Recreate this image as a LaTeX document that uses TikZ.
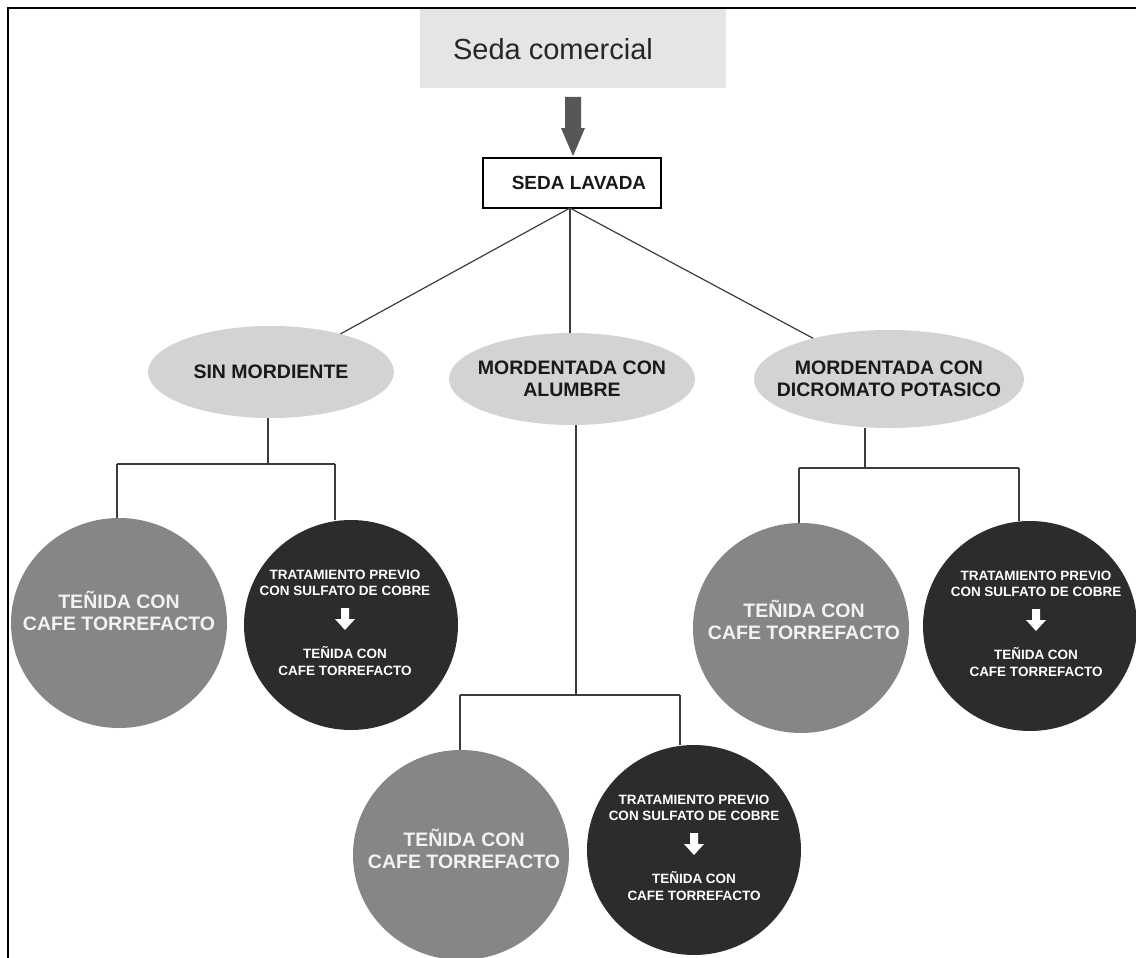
\documentclass[tikz,border=0pt]{standalone}
\usepackage{fontspec}
\setmainfont{Liberation Sans}
\usetikzlibrary{shapes.geometric,calc}
\definecolor{boxgray}{HTML}{E5E5E5}
\definecolor{ellgray}{HTML}{D3D3D3}
\definecolor{midgray}{HTML}{868686}
\definecolor{darkc}{HTML}{2C2C2C}
\definecolor{arrowgray}{HTML}{575757}
\definecolor{linec}{HTML}{3C3C3C}
\tikzset{
  conn/.style={draw=linec, line width=1.2pt},
  ellnode/.style={ellipse, fill=ellgray, inner sep=0pt},
  elltext/.style={align=center, inner sep=0pt, text=black!90,
    font=\fontsize{19.5}{22}\selectfont\bfseries},
  greyc/.style={ellipse, fill=midgray, inner sep=0pt, minimum width=216pt, minimum height=210pt},
  darkcirc/.style={ellipse, fill=darkc, inner sep=0pt, minimum width=214pt, minimum height=210pt},
  greytext/.style={align=center, text=white!95!black, inner sep=0pt,
    font=\fontsize{19.5}{21.5}\selectfont\bfseries},
  smalltext/.style={align=center, text=white, inner sep=0pt,
    font=\fontsize{13.5}{16.5}\selectfont\bfseries},
}
\newcommand{\whitearrow}[1]{%
  \fill[white] ($(#1)+(-4,-17)$) -- ($(#1)+(4,-17)$) -- ($(#1)+(4,-6)$) -- ($(#1)+(10,-6)$)
    -- ($(#1)+(0,5)$) -- ($(#1)+(-10,-6)$) -- ($(#1)+(-4,-6)$) -- cycle;}
\begin{document}
\begin{tikzpicture}[x=1pt,y=-1pt]
\useasboundingbox (0,0) rectangle (1136,958);
\fill[white] (0,0) rectangle (1136,958);
% outer frame (top and left)
\draw[line width=2pt, black] (1136,8) -- (8,8) -- (8,958);

% top box
\node[fill=boxgray, minimum width=306pt, minimum height=79pt, inner sep=0pt,
      font=\fontsize{29}{32}\selectfont, text=black!85] (top) at (573,49)
      {Seda comercial\hspace*{40pt}};
% thick arrow
\fill[arrowgray] (565,97) -- (581,97) -- (581,128) -- (585,128) -- (573,156) -- (561,128) -- (565,128) -- cycle;

% SEDA LAVADA
\node[draw=black, line width=1.1pt, fill=white, minimum width=178pt, minimum height=50pt, inner sep=0pt,
      font=\fontsize{19}{22}\selectfont\bfseries, text=black!90] (sl) at (572,183)
      {\hspace*{14pt}SEDA LAVADA};

% ellipses
\node[ellnode, minimum width=246pt, minimum height=92pt] (e1) at (271,372) {};
\node[elltext] (e1t) at (e1.center) {SIN MORDIENTE};
\node[ellnode, minimum width=246pt, minimum height=92pt] (e2) at (572,379) {};
\node[elltext] (e2t) at (e2.center) {MORDENTADA CON\\ALUMBRE};
\node[ellnode, minimum width=270pt, minimum height=98pt] (e3) at (889,379) {};
\node[elltext] (e3t) at (e3.center) {MORDENTADA CON\\DICROMATO POTASICO};

% connectors from SEDA LAVADA
\coordinate (slb) at (570,208);
\draw[conn] (slb) -- (e1);
\draw[conn] (slb) -- (slb |- e2.north);
\draw[conn] (slb) -- (e3);

% circles
\node[greyc] (c1) at (119,623) {};
\node[darkcirc] (c2) at (351,625) {};
\node[greyc] (c3) at (461,855) {};
\node[darkcirc] (c4) at (694,850) {};
\node[greyc] (c5) at (801,628) {};
\node[darkcirc] (c6) at (1030,626) {};

% branch junctions
\coordinate (j1) at (268,464);
\coordinate (j1l) at (117,464);
\coordinate (j1r) at (335,464);
\coordinate (j2) at (576,695);
\coordinate (j2l) at (460,695);
\coordinate (j2r) at (680,695);
\coordinate (j3) at (865,468);
\coordinate (j3l) at (799,468);
\coordinate (j3r) at (1019,468);

\draw[conn] (e1.south -| j1) -- (j1);
\draw[conn] (j1l) -- (j1r);
\draw[conn] (j1l) -- (j1l |- c1.north);
\draw[conn] (j1r) -- (j1r |- c2.north);

\draw[conn] (e2.south -| j2) -- (j2);
\draw[conn] (j2l) -- (j2r);
\draw[conn] (j2l) -- (j2l |- c3.north);
\draw[conn] (j2r) -- (j2r |- c4.north);

\draw[conn] (e3.south -| j3) -- (j3);
\draw[conn] (j3l) -- (j3r);
\draw[conn] (j3l) -- (j3l |- c5.north);
\draw[conn] (j3r) -- (j3r |- c6.north);

% grey circle texts
\node[greytext] (t1) at ($(c1.center)+(0,-12)$) {TEÑIDA CON\\CAFE TORREFACTO};
\node[greytext] (t3) at ($(c3.center)+(3,-6)$) {TEÑIDA CON\\CAFE TORREFACTO};
\node[greytext] (t5) at ($(c5.center)+(3,-8)$) {TEÑIDA CON\\CAFE TORREFACTO};

% dark circle texts
\foreach \c/\dx in {c2/-6, c4/0, c6/6} {
  \node[smalltext] (\c a) at ($(\c.center)+(\dx,-42)$) {TRATAMIENTO PREVIO\\CON SULFATO DE COBRE};
  \node[smalltext] (\c b) at ($(\c.center)+(\dx,36)$) {TEÑIDA CON\\CAFE TORREFACTO};
  \coordinate (\c m) at ($(\c.center)+(\dx,0)$);
  \whitearrow{\c m}
}
\end{tikzpicture}
\end{document}
